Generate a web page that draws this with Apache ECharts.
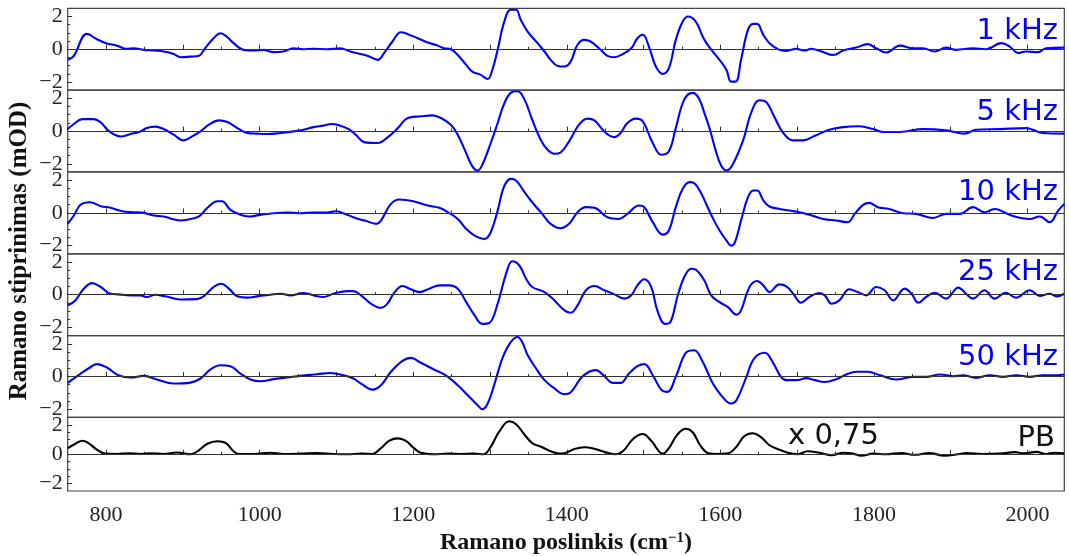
<!DOCTYPE html>
<html>
<head>
<meta charset="utf-8">
<script src="https://cdn.jsdelivr.net/npm/echarts@6/dist/echarts.min.js"></script>
<style>
  html, body { margin: 0; padding: 0; background: #fff; }
  #chart { width: 1069px; height: 556px; }
</style>
</head>
<body>
<div id="chart"></div>
<script>
// Differential Raman spectra at several modulation frequencies, plus the PB reference.
// Each series: [Raman shift (cm^-1), signal (mOD)].
const khz1 = [[750,-0.65],[758,-0.4],[775,0.94],[788,0.61],[800,0.37],[814,0.22],[827,0.02],[836,0.06],[849,-0.04],[862,-0.08],[875,-0.14],[888,-0.29],[897,-0.49],[910,-0.45],[921,-0.4],[929,0.06],[940,0.67],[949,0.98],[958,0.73],[966,0.37],[979,-0.04],[992,-0.08],[1005,-0.04],[1018,-0.18],[1031,-0.14],[1044,0.06],[1057,0],[1070,0.02],[1088,0],[1105,0.06],[1118,-0.14],[1131,-0.29],[1141,-0.41],[1154,-0.65],[1162,-0.24],[1173,0.47],[1184,1.04],[1193,0.92],[1206,0.67],[1219,0.41],[1232,0.22],[1240,0.06],[1249,0],[1258,-0.35],[1269,-0.96],[1277,-1.37],[1288,-1.57],[1297,-1.82],[1303,-1.27],[1310,-0.04],[1318,1.59],[1327,2.41],[1334,2.41],[1340,1.8],[1349,1.08],[1362,0.37],[1371,-0.14],[1379,-0.65],[1388,-1.02],[1397,-1.06],[1405,-0.76],[1414,0.27],[1423,0.57],[1431,0.47],[1442,0.06],[1453,-0.41],[1462,-0.49],[1471,-0.35],[1484,0.06],[1492,0.67],[1499,0.88],[1507,0.16],[1516,-1.06],[1525,-1.51],[1533,-1.16],[1542,0.57],[1551,1.69],[1558,2.0],[1568,1.69],[1577,0.78],[1582,0.37],[1590,-0.14],[1599,-0.65],[1608,-1.27],[1614,-1.98],[1620,-1.98],[1627,-0.65],[1636,1.18],[1643,1.55],[1648,1.55],[1656,0.88],[1664,0.37],[1677,-0.04],[1686,-0.1],[1699,0.02],[1710,-0.08],[1718,0.02],[1732,-0.14],[1747,-0.35],[1760,-0.08],[1777,0.1],[1792,0.31],[1803,0.06],[1816,-0.2],[1834,0.22],[1851,0.06],[1864,0.06],[1879,-0.14],[1894,0.1],[1907,-0.04],[1929,0.06],[1946,0],[1966,0.37],[1977,0.16],[1988,-0.24],[1998,-0.14],[2014,-0.18],[2024,0.06],[2048,0.1]];

const khz5 = [[750,0.12],[758,0.43],[769,0.73],[784,0.73],[793,0.53],[803,0.02],[819,-0.33],[832,-0.18],[843,-0.06],[853,0.18],[864,0.27],[875,0.12],[888,-0.22],[901,-0.57],[912,-0.33],[923,-0.02],[934,0.39],[947,0.65],[958,0.55],[971,0.18],[984,-0.12],[997,-0.16],[1010,-0.18],[1027,-0.12],[1044,-0.02],[1057,0.08],[1070,0.24],[1083,0.33],[1094,0.43],[1105,0.33],[1116,0.12],[1125,-0.22],[1137,-0.69],[1154,-0.73],[1167,-0.37],[1180,0.18],[1193,0.8],[1210,0.9],[1225,0.96],[1236,0.8],[1249,0.39],[1258,-0.22],[1269,-1.35],[1277,-2.16],[1284,-2.41],[1290,-2.06],[1301,-0.73],[1310,0.49],[1318,1.61],[1327,2.33],[1336,2.43],[1345,1.92],[1355,0.69],[1366,-0.53],[1375,-1.14],[1384,-1.39],[1392,-1.31],[1403,-0.63],[1416,0.39],[1427,0.76],[1436,0.65],[1451,-0.12],[1462,-0.37],[1470,-0.12],[1479,0.49],[1490,0.76],[1499,0.59],[1512,-0.73],[1523,-1.45],[1533,-1.24],[1542,0.18],[1553,1.92],[1564,2.33],[1572,2.0],[1580,1.0],[1587,0.0],[1594,-1.2],[1601,-2.1],[1608,-2.41],[1616,-2.06],[1630,-0.53],[1640,1.1],[1651,1.88],[1660,1.76],[1669,1.0],[1682,-0.12],[1695,-0.57],[1708,-0.57],[1723,-0.29],[1742,0.08],[1760,0.24],[1781,0.29],[1799,0.12],[1812,-0.06],[1834,-0.06],[1864,0.12],[1894,0.04],[1918,-0.16],[1933,0.08],[1964,0.12],[1998,0.18],[2020,-0.12],[2048,-0.16]];

const khz10 = [[750,-0.67],[758,-0.16],[767,0.51],[779,0.65],[793,0.41],[806,0.31],[821,0.1],[836,0.04],[849,0],[862,-0.16],[875,-0.22],[886,-0.37],[897,-0.47],[910,-0.37],[921,-0.22],[932,0.31],[945,0.71],[951,0.71],[962,0.18],[975,-0.12],[986,-0.22],[1001,-0.12],[1018,-0.02],[1036,0.02],[1053,-0.02],[1070,0.02],[1088,0.02],[1099,0.1],[1109,-0.02],[1122,-0.27],[1131,-0.41],[1137,-0.47],[1152,-0.67],[1158,-0.47],[1171,0.55],[1182,0.82],[1200,0.71],[1219,0.45],[1234,0.31],[1245,0.04],[1258,-0.37],[1269,-0.98],[1280,-1.39],[1293,-1.59],[1301,-1.18],[1310,0.14],[1318,1.57],[1327,2.08],[1334,1.98],[1345,1.27],[1355,0.65],[1368,-0.06],[1379,-0.67],[1392,-0.94],[1403,-0.67],[1414,0.04],[1425,0.35],[1436,0.31],[1453,-0.27],[1468,-0.37],[1479,-0.06],[1494,0.45],[1501,0.35],[1512,-0.57],[1525,-1.33],[1533,-1.08],[1542,0.35],[1551,1.47],[1560,1.88],[1566,1.82],[1575,1.2],[1582,0.5],[1590,-0.3],[1599,-1.08],[1608,-1.69],[1614,-2.0],[1619,-1.8],[1627,-0.47],[1636,0.96],[1643,1.37],[1648,1.37],[1656,0.76],[1664,0.39],[1677,0.24],[1690,0.14],[1703,0.04],[1716,-0.12],[1734,-0.37],[1751,-0.47],[1766,-0.57],[1775,-0.06],[1786,0.49],[1794,0.61],[1805,0.35],[1820,0.24],[1838,-0.02],[1855,-0.06],[1877,-0.31],[1894,-0.06],[1912,-0.06],[1929,0.35],[1944,0.04],[1957,0.24],[1979,-0.16],[2003,-0.37],[2016,-0.22],[2029,-0.57],[2040,0.14],[2048,0.55]];

const khz25 = [[750,-0.65],[760,-0.35],[771,0.37],[782,0.71],[793,0.47],[806,0.06],[816,0.02],[832,-0.04],[845,-0.04],[853,-0.14],[864,0],[877,-0.1],[897,-0.29],[918,-0.27],[927,-0.1],[940,0.47],[950,0.67],[960,0.37],[971,-0.1],[984,-0.18],[997,-0.1],[1014,0],[1027,0.06],[1040,-0.04],[1057,0.1],[1075,-0.1],[1083,-0.14],[1096,0.06],[1114,0.22],[1122,0.22],[1132,-0.04],[1145,-0.55],[1158,-0.8],[1167,-0.51],[1175,0.1],[1186,0.53],[1197,0.33],[1208,0.16],[1221,0.37],[1234,0.57],[1247,0.57],[1258,0.37],[1269,-0.45],[1280,-1.27],[1290,-1.78],[1299,-1.73],[1310,-0.55],[1321,1.29],[1329,2.04],[1338,1.8],[1347,0.98],[1355,0.47],[1371,0.16],[1384,-0.35],[1397,-0.96],[1405,-1.1],[1414,-0.65],[1425,0.27],[1436,0.53],[1449,0.27],[1462,0.02],[1475,-0.24],[1484,-0.04],[1492,0.57],[1501,0.94],[1510,0.47],[1518,-0.96],[1528,-1.78],[1535,-1.67],[1544,-0.14],[1553,1.08],[1562,1.59],[1568,1.53],[1579,0.88],[1588,-0.04],[1599,-0.45],[1610,-0.76],[1621,-1.22],[1627,-0.96],[1638,0.47],[1648,0.84],[1656,0.57],[1664,0.16],[1677,0.63],[1686,0.51],[1695,0.06],[1705,-0.49],[1716,-0.14],[1729,0.1],[1736,-0.04],[1745,-0.55],[1755,-0.35],[1768,0.33],[1779,0.16],[1790,-0.04],[1803,0.47],[1814,0.27],[1825,-0.35],[1840,0.37],[1849,0.06],[1858,-0.49],[1868,-0.14],[1879,0.12],[1894,-0.24],[1910,0.43],[1920,0.06],[1929,-0.24],[1944,0.27],[1957,-0.24],[1972,0.12],[1985,-0.18],[2003,0.27],[2016,-0.08],[2029,0.06],[2038,-0.1],[2048,0.06]];

const khz50 = [[750,-0.39],[767,0.18],[777,0.49],[788,0.76],[801,0.55],[816,0.08],[832,-0.06],[849,0.04],[866,-0.18],[888,-0.43],[910,-0.37],[923,-0.12],[936,0.43],[949,0.69],[962,0.63],[975,0.18],[988,-0.18],[1001,-0.29],[1018,-0.16],[1036,-0.06],[1053,0.04],[1075,0.14],[1092,0.22],[1109,0.08],[1122,-0.12],[1132,-0.43],[1147,-0.8],[1158,-0.53],[1171,0.29],[1186,0.96],[1197,1.14],[1210,0.84],[1227,0.43],[1242,0.08],[1258,-0.53],[1271,-1.14],[1284,-1.76],[1290,-2.0],[1297,-1.65],[1306,-0.43],[1316,1.1],[1327,2.1],[1336,2.42],[1342,2.1],[1349,1.31],[1360,0.49],[1371,-0.22],[1384,-0.73],[1397,-1.08],[1405,-0.98],[1418,-0.12],[1429,0.29],[1438,0.39],[1449,0.02],[1460,-0.39],[1470,-0.39],[1481,0.18],[1492,0.63],[1501,0.76],[1512,0.08],[1523,-0.8],[1531,-0.94],[1542,-0.02],[1555,1.45],[1566,1.61],[1577,0.9],[1584,0.2],[1590,-0.4],[1601,-1.14],[1614,-1.65],[1621,-1.45],[1634,-0.02],[1644,1.1],[1658,1.45],[1668,0.9],[1679,-0.02],[1686,-0.22],[1699,-0.22],[1712,-0.1],[1723,-0.22],[1736,-0.33],[1751,-0.16],[1764,0.12],[1777,0.29],[1792,0.29],[1808,0.08],[1829,-0.18],[1851,-0.02],[1868,-0.02],[1886,0.12],[1903,0.02],[1916,0.08],[1933,-0.08],[1951,0.08],[1968,-0.02],[1986,0.08],[2003,-0.02],[2020,0.08],[2038,0.08],[2048,0.12]];

// PB reference spectrum, already multiplied by 0.75
const pb = [[750,0.41],[760,0.71],[769,0.92],[777,0.76],[788,0.31],[799,0.04],[814,0.02],[830,0.06],[845,0.02],[858,0.06],[875,0.02],[892,0.12],[910,0],[919,0.2],[932,0.71],[945,0.88],[956,0.76],[966,0.2],[973,0.02],[992,0.02],[1014,0.1],[1031,0.02],[1053,0.04],[1075,0.08],[1096,0.02],[1114,0],[1132,0.04],[1147,0.02],[1158,0.41],[1169,0.92],[1180,1.08],[1190,0.92],[1201,0.41],[1210,0.1],[1227,0],[1245,0.04],[1262,0.02],[1279,0.04],[1292,0],[1301,0.51],[1312,1.53],[1325,2.24],[1334,2.04],[1345,1.33],[1355,0.76],[1368,0.47],[1379,0.2],[1390,0.04],[1399,0.1],[1410,0.35],[1423,0.47],[1436,0.37],[1449,0.16],[1462,0],[1473,0.2],[1486,1.02],[1499,1.37],[1510,0.92],[1525,0.04],[1533,0.41],[1544,1.33],[1555,1.73],[1564,1.49],[1575,0.51],[1586,0.04],[1595,0.02],[1610,0.06],[1621,0.51],[1631,1.22],[1642,1.43],[1653,1.16],[1664,0.61],[1677,0.31],[1688,0.1],[1701,0],[1714,0.2],[1729,0.1],[1745,-0.06],[1760,0.1],[1771,0.06],[1784,-0.1],[1799,0.04],[1816,0],[1836,0.08],[1853,-0.04],[1872,0.08],[1892,-0.1],[1912,0.02],[1920,0.08],[1942,0.02],[1964,0.04],[1984,0.14],[1995,0.06],[2012,0.16],[2024,0.02],[2035,0.1],[2048,0.06]];

const panelNames = ['1 kHz', '5 kHz', '10 kHz', '25 kHz', '50 kHz', 'PB'];
const panelData = [khz1, khz5, khz10, khz25, khz50, pb];
const xLabelValues = [800, 1000, 1200, 1400, 1600, 1800, 2000];
const xMajorTicks = [800, 900, 1000, 1100, 1200, 1300, 1400, 1500, 1600, 1700, 1800, 1900, 2000];
const xMinorTicks = [750, 850, 950, 1050, 1150, 1250, 1350, 1450, 1550, 1650, 1750, 1850, 1950];
const yLabelValues = [-2, 0, 2];
const yMinorTicks = [-1.5, -1, -0.5, 0.5, 1, 1.5];
const scaleNote = 'x 0,75';

const BLUE = '#0000ff';
const serif = '"Liberation Serif", "DejaVu Serif", serif';
const sans = '"DejaVu Sans", sans-serif';

const plotLeft = 67.7, plotWidth = 996.6, plotTop = 8.3, panelH = 81.83;

const grids = [], xAxes = [], yAxes = [], series = [];
panelData.forEach(function (data, i) {
  grids.push({
    left: plotLeft, width: plotWidth, top: plotTop + i * panelH, height: panelH,
    show: true, borderColor: '#444', borderWidth: 1.2, backgroundColor: 'transparent'
  });
  const last = i === panelData.length - 1;
  // main x axis: long ticks every 100, labels every 200 on the bottom panel
  xAxes.push({
    type: 'value', gridIndex: i, position: 'bottom', min: 750, max: 2048,
    axisLine: { show: false }, splitLine: { show: false },
    axisTick: { show: true, inside: true, length: 4.5, customValues: xMajorTicks,
      lineStyle: { color: '#333', width: 1 } },
    axisLabel: { show: last, customValues: xLabelValues, margin: 13,
      fontFamily: serif, fontSize: 22, color: '#222',
      formatter: function (v) { return String(v); } },
    name: last ? 'Ramano poslinkis (cm{sup|\u22121})' : '',
    nameLocation: 'middle', nameGap: 40,
    nameTextStyle: { fontFamily: serif, fontSize: 24, fontWeight: 'bold', color: '#111',
      rich: { sup: { fontFamily: serif, fontSize: 15, fontWeight: 'bold', color: '#111',
        verticalAlign: 'top', padding: [0, 0, 9, 0] } } }
  });
  // short ticks every 50 in between
  xAxes.push({
    type: 'value', gridIndex: i, position: 'bottom', min: 750, max: 2048,
    axisLine: { show: false }, splitLine: { show: false },
    axisTick: { show: true, inside: true, length: 2.5, customValues: xMinorTicks,
      lineStyle: { color: '#333', width: 1 } },
    axisLabel: { show: false }
  });
  yAxes.push({
    type: 'value', gridIndex: i, position: 'left', min: -2.5, max: 2.5,
    axisLine: { show: false }, splitLine: { show: false },
    axisTick: { show: true, inside: true, length: 4.5, customValues: yLabelValues,
      lineStyle: { color: '#333', width: 1 } },
    axisLabel: { show: true, customValues: yLabelValues, margin: 5,
      fontFamily: serif, fontSize: 22, color: '#222',
      formatter: function (v) { return v < 0 ? '\u2212' + Math.abs(v) : String(v); } }
  });
  yAxes.push({
    type: 'value', gridIndex: i, position: 'left', min: -2.5, max: 2.5,
    axisLine: { show: false }, splitLine: { show: false },
    axisTick: { show: true, inside: true, length: 2.5, customValues: yMinorTicks,
      lineStyle: { color: '#333', width: 1 } },
    axisLabel: { show: false }
  });
  series.push({
    type: 'line', name: panelNames[i], xAxisIndex: 2 * i, yAxisIndex: 2 * i,
    data: data, smooth: 0.4, showSymbol: false, symbol: 'none',
    lineStyle: { color: last ? '#000' : BLUE, width: 2.1 },
    markLine: {
      silent: true, symbol: 'none', animation: false, label: { show: false },
      lineStyle: { color: '#333', width: 1, type: 'solid' },
      data: [{ yAxis: 0 }]
    },
    z: 3
  });
});

// panel captions (right-aligned, cap centre y)
const captionPos = [[1058, 31], [1058, 112.5], [1058, 192], [1058, 272], [1058, 357.5]];
const graphics = captionPos.map(function (p, i) {
  return { type: 'text', x: p[0], y: p[1], z: 10,
    style: { text: panelNames[i], fill: BLUE, font: '29px ' + sans, textAlign: 'right', textVerticalAlign: 'middle' } };
});
graphics.push({ type: 'text', x: 1055, y: 438.5, z: 10,
  style: { text: panelNames[5], fill: '#111', font: '29px ' + sans, textAlign: 'right', textVerticalAlign: 'middle' } });
graphics.push({ type: 'text', x: 788, y: 436.5, z: 10,
  style: { text: scaleNote, fill: '#111', font: '29px ' + sans, textAlign: 'left', textVerticalAlign: 'middle' } });
// vertical axis title spanning all panels
graphics.push({ type: 'text', x: 20, y: 251, rotation: Math.PI / 2, z: 10,
  style: { text: 'Ramano stiprinimas (mOD)', fill: '#111', font: 'bold 25px ' + serif,
    textAlign: 'center', textVerticalAlign: 'middle' } });

const chart = echarts.init(document.getElementById('chart'), null, { renderer: 'canvas' });
chart.setOption({
  animation: false,
  backgroundColor: '#fff',
  grid: grids, xAxis: xAxes, yAxis: yAxes, series: series,
  graphic: graphics
});
</script>
</body>
</html>
